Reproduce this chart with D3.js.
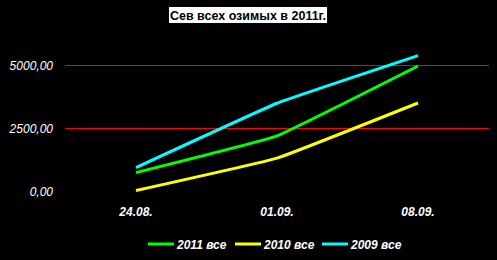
<!DOCTYPE html>
<html>
<head>
<meta charset="utf-8">
<script src="https://cdn.jsdelivr.net/npm/d3@7"></script>
<style>
  body { margin: 0; background: #000; }
  svg { display: block; }
</style>
</head>
<body>
<svg id="chart"></svg>
<script>
var title = "Сев всех озимых в 2011г.";
var dates = ["24.08.", "01.09.", "08.09."];
var yTicks = [0, 2500, 5000];
var seriesNames = ["2011 все", "2010 все", "2009 все"];
var seriesColors = ["#00ff00", "#ffff00", "#00ffff"];
var v2011 = [750, 2200, 4960];
var v2010 = [40, 1320, 3500];
var v2009 = [950, 3490, 5370];
var allSeries = [v2011, v2010, v2009];

var width = 497, height = 260;
var svg = d3.select("#chart").attr("width", width).attr("height", height);
svg.append("rect").attr("width", width).attr("height", height).attr("fill", "#000");

var x = d3.scalePoint().domain(dates).range([136, 418]);
var y = d3.scaleLinear().domain([0, 5000]).range([191.6, 65]);

// gridlines (0 line not drawn)
svg.selectAll("line.grid")
    .data(yTicks.filter(function(d) { return d > 0; }))
  .enter().append("line")
    .attr("class", "grid")
    .attr("x1", 65).attr("x2", 489)
    .attr("y1", function(d) { return Math.round(y(d)) + 0.5; })
    .attr("y2", function(d) { return Math.round(y(d)) + 0.5; })
    .attr("stroke", "#ff0000").attr("stroke-width", 1);

var fmt = function(d) { return d3.format(".2f")(d).replace(".", ","); };
svg.selectAll("text.ytick")
    .data(yTicks)
  .enter().append("text")
    .attr("class", "ytick")
    .attr("x", 53).attr("y", function(d) { return y(d) + 4.5; })
    .attr("text-anchor", "end")
    .attr("fill", "#fff")
    .style("font", "italic 12px 'Liberation Sans', Arial, sans-serif")
    .text(fmt);

svg.selectAll("text.xtick")
    .data(dates)
  .enter().append("text")
    .attr("class", "xtick")
    .attr("x", function(d) { return x(d); })
    .attr("y", 216)
    .attr("text-anchor", "middle")
    .attr("fill", "#fff")
    .style("font", "italic bold 12px 'Liberation Sans', Arial, sans-serif")
    .text(function(d) { return d; });

var line = d3.line()
    .x(function(d, i) { return x(dates[i]); })
    .y(function(d) { return y(d); })
    .curve(d3.curveCardinal.tension(0.75));

// draw 2010 first, then 2011, then 2009 on top
[1, 0, 2].forEach(function(k) {
  svg.append("path")
      .attr("d", line(allSeries[k]))
      .attr("fill", "none")
      .attr("stroke", seriesColors[k])
      .attr("stroke-width", 3);
});

// title
var t = svg.append("text")
    .attr("x", 248).attr("y", 20)
    .attr("text-anchor", "middle")
    .attr("fill", "#000")
    .style("font", "bold 12.5px 'Liberation Sans', Arial, sans-serif")
    .text(title);
var bb = t.node().getBBox();
svg.insert("rect", function() { return t.node(); })
    .attr("x", bb.x - 1).attr("y", 7)
    .attr("width", bb.width + 2).attr("height", 16)
    .attr("fill", "#fff");

// legend
var legendX = [148, 235, 322];
var leg = svg.selectAll("g.leg")
    .data(seriesNames)
  .enter().append("g")
    .attr("class", "leg")
    .attr("transform", function(d, i) { return "translate(" + legendX[i] + ",244)"; });
leg.append("line")
    .attr("x1", 0).attr("x2", 26).attr("y1", 0).attr("y2", 0)
    .attr("stroke", function(d, i) { return seriesColors[i]; })
    .attr("stroke-width", 3);
leg.append("text")
    .attr("x", 29).attr("y", 4.5)
    .attr("fill", "#fff")
    .style("font", "italic bold 12px 'Liberation Sans', Arial, sans-serif")
    .text(function(d) { return d; });
</script>
</body>
</html>
